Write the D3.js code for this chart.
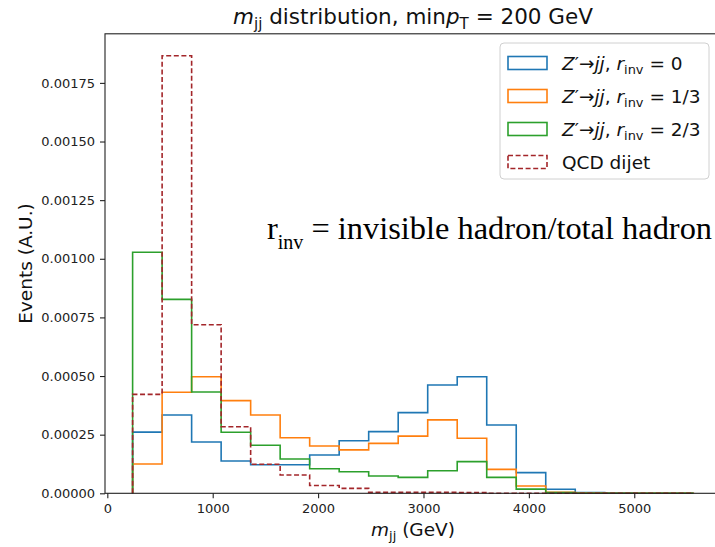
<!DOCTYPE html>
<html lang="en">
<head>
  <meta charset="UTF-8">
  <title>mjj distribution</title>
  <script src="https://cdn.jsdelivr.net/npm/d3@7"></script>
  <style>
    body { margin: 0; background: #fff; }
    svg { font-family: "DejaVu Sans", sans-serif; }
  </style>
</head>
<body>
<script>
  // bin edges (GeV), 19 bins
  var binEdges = [240, 520, 800, 1080, 1360, 1640, 1920, 2200, 2480, 2760,
                  3040, 3320, 3600, 3880, 4160, 4440, 4720, 5000, 5280, 5560];

  // normalised counts per bin
  var rinv0 = [26.1e-5, 33.4e-5, 21.9e-5, 13.8e-5, 12.2e-5, 12.2e-5, 16.3e-5, 22.4e-5, 26.3e-5, 34.4e-5,
               46.2e-5, 49.7e-5, 29.1e-5, 8.8e-5, 1.7e-5, 0.3e-5, 0.1e-5, 0.05e-5, 0.02e-5];
  var rinv13 = [12.5e-5, 43.1e-5, 49.7e-5, 39.5e-5, 33.4e-5, 23.7e-5, 20.2e-5, 18.5e-5, 21.3e-5, 24.4e-5,
                31.3e-5, 23.5e-5, 10.2e-5, 3.1e-5, 0.4e-5, 0.1e-5, 0.05e-5, 0.02e-5, 0.01e-5];
  var rinv23 = [102.8e-5, 82.7e-5, 43.2e-5, 26.0e-5, 20.5e-5, 14.6e-5, 10.5e-5, 9.2e-5, 7.4e-5, 6.8e-5,
                9.6e-5, 13.5e-5, 6.8e-5, 1.8e-5, 0.3e-5, 0.05e-5, 0.02e-5, 0.01e-5, 0];
  var qcd = [42.2e-5, 186.6e-5, 71.9e-5, 28.4e-5, 12.4e-5, 7.8e-5, 3.3e-5, 2.1e-5, 0.4e-5, 0.4e-5,
             0.4e-5, 0.3e-5, 0.05e-5, 0.02e-5, 0.01e-5, 0.01e-5, 0.005e-5, 0.003e-5, 0.002e-5];

  var xTicks = [0, 1000, 2000, 3000, 4000, 5000];
  var yTicks = [0, 0.00025, 0.0005, 0.00075, 0.001, 0.00125, 0.0015, 0.00175];

  var series = [
    { values: rinv0,  color: "#1f77b4", dash: null, label: "0" },
    { values: rinv13, color: "#ff7f0e", dash: null, label: "1/3" },
    { values: rinv23, color: "#2ca02c", dash: null, label: "2/3" },
    { values: qcd,    color: "#a3262a", dash: "5,2.6", label: null }
  ];

  var W = 715, H = 547;
  var pLeft = 105, pRight = 721, pTop = 33.8, pBottom = 493.3;

  var x = d3.scaleLinear().domain([-22, 5823]).range([pLeft, pRight]);
  var y = d3.scaleLinear().domain([0, 0.0019593]).range([pBottom, pTop]);

  var svg = d3.select("body").append("svg")
    .attr("width", W).attr("height", H);

  // writes text made of plain / italic / subscript pieces
  function mathText(sel, parts, size) {
    var shift = 0;
    parts.forEach(function(p) {
      var ts = sel.append("tspan").text(p[0]);
      var kind = p[1] || "";
      var dy = 0;
      if (kind === "sub") {
        ts.attr("font-size", size * 0.7);
        dy = size * 0.22 - shift;
        shift = size * 0.22;
      } else {
        dy = -shift;
        shift = 0;
      }
      if (dy) ts.attr("dy", dy);
      if (kind === "i") ts.style("font-style", "italic");
    });
  }

  // histograms
  var line = d3.line()
    .x(function(d) { return x(d[0]); })
    .y(function(d) { return y(d[1]); })
    .curve(d3.curveStepAfter);

  series.forEach(function(s) {
    var n = s.values.length;
    var pts = [[binEdges[0], 0]];
    s.values.forEach(function(v, i) { pts.push([binEdges[i], v]); });
    pts.push([binEdges[n], s.values[n - 1]]);
    pts.push([binEdges[n], 0]);
    svg.append("path")
      .attr("d", line(pts))
      .attr("fill", "none")
      .attr("stroke", s.color)
      .attr("stroke-width", 1.6)
      .attr("stroke-dasharray", s.dash);
  });

  // axes
  var yAxis = svg.append("g")
    .attr("transform", "translate(" + pLeft + ",0)")
    .call(d3.axisLeft(y).tickValues(yTicks).tickFormat(d3.format(".5f")).tickSize(5).tickPadding(5));
  var xAxis = svg.append("g")
    .attr("transform", "translate(0," + pBottom + ")")
    .call(d3.axisBottom(x).tickValues(xTicks).tickFormat(d3.format("d")).tickSize(5).tickPadding(5));

  [xAxis, yAxis].forEach(function(a) {
    a.select(".domain").remove();
    a.selectAll("text").attr("font-size", 13).attr("font-family", "DejaVu Sans").attr("fill", "#222");
    a.selectAll("line").attr("stroke", "#222").attr("stroke-width", 1.1);
  });

  // frame
  svg.append("rect")
    .attr("x", pLeft).attr("y", pTop)
    .attr("width", pRight - pLeft).attr("height", pBottom - pTop)
    .attr("fill", "none").attr("stroke", "#222").attr("stroke-width", 1.1);

  // title
  var title = svg.append("text")
    .attr("x", (pLeft + pRight) / 2).attr("y", 24)
    .attr("text-anchor", "middle").attr("font-size", 21.5).attr("fill", "#111");
  mathText(title, [["m", "i"], ["jj", "sub"], [" distribution, min"], ["p", "i"], ["T", "sub"], [" = 200 GeV"]], 21.5);

  // axis labels
  var xl = svg.append("text")
    .attr("x", (pLeft + pRight) / 2).attr("y", 536)
    .attr("text-anchor", "middle").attr("font-size", 18.5).attr("fill", "#111");
  mathText(xl, [["m", "i"], ["jj", "sub"], [" (GeV)"]], 18.5);

  svg.append("text")
    .attr("transform", "translate(32," + ((pTop + pBottom) / 2) + ")rotate(-90)")
    .attr("text-anchor", "middle").attr("font-size", 18.5).attr("fill", "#111")
    .text("Events (A.U.)");

  // legend
  var legend = svg.append("g");
  legend.append("rect")
    .attr("x", 500).attr("y", 43).attr("width", 209).attr("height", 136)
    .attr("rx", 4)
    .attr("fill", "#fff").attr("fill-opacity", 0.8)
    .attr("stroke", "#d0d0d0").attr("stroke-width", 1);

  series.forEach(function(s, i) {
    var cy = 63 + i * 33;
    legend.append("rect")
      .attr("x", 508).attr("y", cy - 6.5).attr("width", 39).attr("height", 13)
      .attr("fill", "none").attr("stroke", s.color).attr("stroke-width", 1.6)
      .attr("stroke-dasharray", s.dash);
    var t = legend.append("text")
      .attr("x", 562).attr("y", cy + 6.5).attr("font-size", 18.5).attr("fill", "#111");
    if (s.label) {
      mathText(t, [["Z", "i"], ["\u2032\u2192"], ["jj", "i"], [", "], ["r", "i"], ["inv", "sub"], [" = " + s.label]], 18.5);
    } else {
      t.text("QCD dijet");
    }
  });

  // annotation
  var note = svg.append("text")
    .attr("x", 267).attr("y", 239)
    .attr("font-family", "Liberation Serif, serif").attr("font-size", 32.4).attr("fill", "#000");
  note.append("tspan").text("r");
  note.append("tspan").attr("font-size", 20).attr("dy", 10).text("inv");
  note.append("tspan").attr("dy", -10).text(" = invisible hadron/total hadron");
</script>
</body>
</html>
